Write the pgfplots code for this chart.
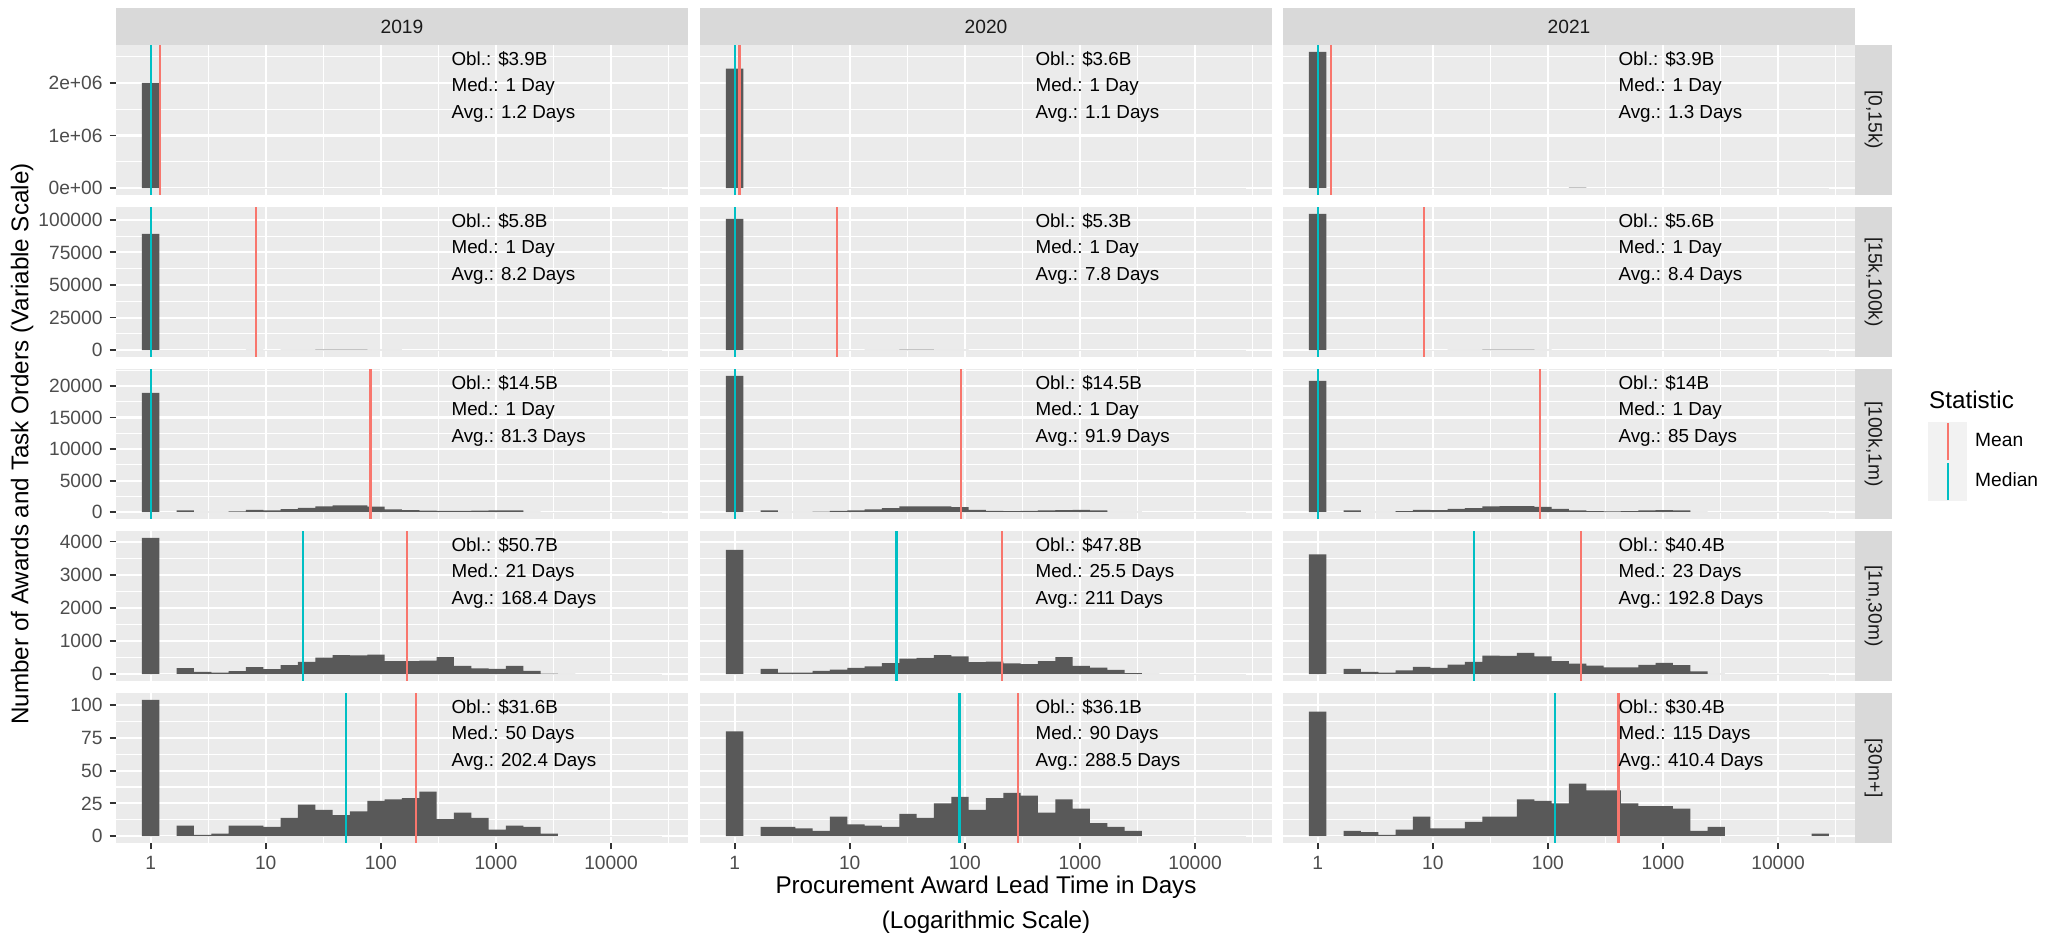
\documentclass[border=0pt]{standalone}
\usepackage{fontspec}
\setmainfont{Liberation Sans}
\usepackage{pgfplots}
\usepackage{pgfplotstable}
\pgfplotsset{compat=1.18}
\definecolor{panelbg}{HTML}{EBEBEB}
\definecolor{stripbg}{HTML}{D9D9D9}
\definecolor{barc}{HTML}{595959}
\definecolor{ticklab}{HTML}{4D4D4D}
\definecolor{tickc}{HTML}{333333}
\definecolor{striptext}{HTML}{1A1A1A}
\definecolor{keybg}{HTML}{F2F2F2}
\definecolor{meanc}{HTML}{F8766D}
\definecolor{medc}{HTML}{00BFC4}
\newcommand{\ticksize}{\fontsize{9.6}{11}\selectfont}
\newcommand{\annsize}{\fontsize{9.4}{11}\selectfont}
\newcommand{\titlesize}{\fontsize{12.1}{14}\selectfont}

% bin left edges (log10 days) and counts: a=2019, b=2020, c=2021
\pgfplotstableread{
x a b c
-0.0753 2000000 2270000 2590000
0.0753 0 0 0
0.2259 0 0 0
0.3765 0 0 0
0.5271 0 0 0
0.6777 0 0 0
0.8283 0 0 0
0.9789 0 0 0
1.1295 0 0 0
1.2801 0 0 0
1.4307 0 0 0
1.5813 0 0 0
1.7319 0 0 0
1.8825 0 0 0
2.0331 0 0 0
2.1837 0 0 8000
2.3343 0 0 0
2.4849 0 0 0
2.6355 0 0 0
2.7861 0 0 0
2.9367 0 0 0
3.0873 0 0 0
3.2379 0 0 0
3.3885 0 0 0
3.5391 0 0 0
3.6897 0 0 0
3.8403 0 0 0
3.9909 0 0 0
4.1415 0 0 0
4.2921 0 0 0
4.4427 0 0 0
}\rowA
\pgfplotstableread{
x a b c
-0.0753 89200 100800 104600
0.0753 0 0 0
0.2259 0 0 0
0.3765 0 0 0
0.5271 0 0 0
0.6777 0 0 0
0.8283 150 0 0
0.9789 0 0 0
1.1295 200 150 150
1.2801 300 250 250
1.4307 500 450 450
1.5813 500 450 500
1.7319 500 300 450
1.8825 300 200 250
2.0331 150 100 100
2.1837 0 0 0
2.3343 0 0 0
2.4849 0 0 0
2.6355 0 0 0
2.7861 0 0 0
2.9367 0 0 0
3.0873 0 0 0
3.2379 0 0 0
3.3885 0 0 0
3.5391 0 0 0
3.6897 0 0 0
3.8403 0 0 0
3.9909 0 0 0
4.1415 0 0 0
4.2921 0 0 0
4.4427 0 0 0
}\rowB
\pgfplotstableread{
x a b c
-0.0753 18880 21600 20800
0.0753 0 0 0
0.2259 300 270 270
0.3765 60 40 50
0.5271 50 40 50
0.6777 110 100 160
0.8283 380 200 370
0.9789 280 270 320
1.1295 480 430 530
1.2801 680 640 640
1.4307 920 900 900
1.5813 1080 920 960
1.7319 1060 920 960
1.8825 860 800 850
2.0331 430 370 530
2.1837 320 210 270
2.3343 260 160 160
2.4849 210 210 110
2.6355 200 270 160
2.7861 260 320 270
2.9367 280 370 320
3.0873 280 270 270
3.2379 60 50 50
3.3885 10 30 10
3.5391 0 0 0
3.6897 0 0 0
3.8403 0 0 0
3.9909 0 0 0
4.1415 0 0 0
4.2921 0 0 0
4.4427 0 0 0
}\rowC
\pgfplotstableread{
x a b c
-0.0753 4113 3750 3610
0.0753 0 0 0
0.2259 185 161 162
0.3765 70 50 70
0.5271 45 50 45
0.6777 95 100 115
0.8283 215 140 218
0.9789 155 190 188
1.1295 270 236 284
1.2801 370 333 370
1.4307 497 472 562
1.5813 577 492 552
1.7319 567 573 644
1.8825 587 537 537
2.0331 391 361 390
2.1837 391 382 319
2.3343 406 322 258
2.4849 517 306 208
2.6355 251 391 208
2.7861 175 512 279
2.9367 160 251 340
3.0873 251 201 273
3.2379 100 130 86
3.3885 20 30 10
3.5391 10 10 0
3.6897 0 0 0
3.8403 0 0 0
3.9909 0 0 0
4.1415 0 0 0
4.2921 0 0 0
4.4427 0 0 0
}\rowD
\pgfplotstableread{
x a b c
-0.0753 104 80 95
0.0753 0 0 0
0.2259 8 7 4
0.3765 1 7 3
0.5271 2 6 1
0.6777 8 4 5
0.8283 8 15 15
0.9789 7 9 6
1.1295 14 8 6
1.2801 24 7 11
1.4307 20 17 15
1.5813 16 14 15
1.7319 19 25 28
1.8825 27 30 27
2.0331 28 20 25
2.1837 29 29 40
2.3343 34 33 35
2.4849 13 31 35
2.6355 18 18 25
2.7861 14 28 23
2.9367 5 21 23
3.0873 8 10 21
3.2379 7 7 4
3.3885 2 4 7
3.5391 0 0 0
3.6897 0 0 0
3.8403 0 0 0
3.9909 0 0 0
4.1415 0 0 0
4.2921 0 0 2
4.4427 0 0 0
}\rowE

\pgfplotsset{
  panel/.style={
    scale only axis, width=286pt, height=75pt, anchor=south west,
    xmin=-0.301, xmax=4.669,
    axis background/.style={fill=panelbg},
    axis line style={draw=none},
    grid=both,
    major grid style={draw=white, line width=1.05pt},
    minor grid style={draw=white, line width=0.55pt},
    xtick={0,1,2,3,4}, minor xtick={0.5,1.5,2.5,3.5,4.5},
    xticklabels={}, yticklabels={},
    tick align=outside, tick pos=left,
    major tick length=3.2pt, minor tick length=0pt,
    xtick style={draw=none}, ytick style={draw=none},
    tick label style={font=\ticksize, text=ticklab},
    scaled ticks=false,
    clip mode=individual,
  },
  r1/.style={ymin=-129500, ymax=2719500, ytick={0,1000000,2000000}, minor ytick={500000,1500000,2500000}},
  r2/.style={ymin=-5230, ymax=109830, ytick={0,25000,50000,75000,100000}, minor ytick={12500,37500,62500,87500}},
  r3/.style={ymin=-1080, ymax=22680, ytick={0,5000,10000,15000,20000}, minor ytick={2500,7500,12500,17500,22500}},
  r4/.style={ymin=-206, ymax=4319, ytick={0,1000,2000,3000,4000}, minor ytick={500,1500,2500,3500}},
  r5/.style={ymin=-5.2, ymax=109.2, ytick={0,25,50,75,100}, minor ytick={12.5,37.5,62.5,87.5}},
  leftcol/.style={ytick style={draw=tickc, line width=0.9pt}},
  l1/.style={leftcol, yticklabels={0e+00,1e+06,2e+06}},
  l2/.style={leftcol, yticklabels={0,25000,50000,75000,100000}},
  l3/.style={leftcol, yticklabels={0,5000,10000,15000,20000}},
  l4/.style={leftcol, yticklabels={0,1000,2000,3000,4000}},
  l5/.style={leftcol, yticklabels={0,25,50,75,100}},
  bottom/.style={xticklabels={1,10,100,1000,10000}, xtick style={draw=tickc, line width=0.9pt}},
  topstrip/.style={extra description/.append code={
    \fill[stripbg] (0,1) rectangle ([yshift=18.5pt]1,1);
    \node[font=\ticksize, text=striptext] at ([yshift=9.25pt]0.5,1) {#1};}},
  rightstrip/.style={extra description/.append code={
    \fill[stripbg] (1,0) rectangle ([xshift=18.5pt]1,1);
    \node[font=\ticksize, text=striptext, rotate=-90] at ([xshift=9.25pt]1,0.5) {#1};}},
  mylegend/.style={
    legend entries={Mean,Median},
    legend image code/.code={
      \fill[keybg] (0pt,-9.375pt) rectangle (18.5pt,9.375pt);
      \draw[##1, line width=1.1pt] (9.25pt,-9.375pt) -- (9.25pt,9.375pt);},
    legend style={at={(1.1276,0.383)}, anchor=west, draw=none, fill=none,
      inner sep=0pt, outer sep=0pt, row sep=0pt, column sep=4pt,
      font=\ticksize, nodes={inner sep=0pt, text=black}},
    legend cell align=left,
    extra description/.append code={
      \node[anchor=west, inner sep=0pt, font=\titlesize] at (1.129,0.793) {Statistic};},
  },
  ylab/.style={extra description/.append code={
      \node[rotate=90, font=\titlesize] at (-0.1643,0.5) {Number of Awards and Task Orders (Variable Scale)};}},
  xlab/.style={extra description/.append code={
      \node[font=\titlesize] at (0.5,-0.293) {Procurement Award Lead Time in Days};
      \node[font=\titlesize] at (0.5,-0.527) {(Logarithmic Scale)};}},
}

% #1 x, #2 y, #3 options, #4 bar source, #5 log mean, #6 log median, #7-#9 annotation lines
\newcommand{\panel}[9]{%
\begin{axis}[panel, at={(#1,#2)}, #3]
\addplot[ybar interval, fill=barc, draw=none, forget plot] #4;
\addplot[meanc, line width=1.1pt] coordinates {(#5,\pgfkeysvalueof{/pgfplots/ymin}) (#5,\pgfkeysvalueof{/pgfplots/ymax})};
\addplot[medc, line width=1.1pt] coordinates {(#6,\pgfkeysvalueof{/pgfplots/ymin}) (#6,\pgfkeysvalueof{/pgfplots/ymax})};
\node[anchor=west, inner sep=0pt, font=\annsize] at (rel axis cs:0.586,0.903) {#7};
\node[anchor=west, inner sep=0pt, font=\annsize] at (rel axis cs:0.586,0.723) {#8};
\node[anchor=west, inner sep=0pt, font=\annsize] at (rel axis cs:0.586,0.543) {#9};
\end{axis}}

\begin{document}
\begin{tikzpicture}
\useasboundingbox (0,0) rectangle (1024.5pt,467.5pt);
% row 1
\panel{58pt}{370pt}{r1,l1,topstrip=2019}{table[x=x,y=a]{\rowA}}{0.0792}{0}{Obl.: \$3.9B}{Med.: 1 Day}{Avg.: 1.2 Days}
\panel{350pt}{370pt}{r1,topstrip=2020}{table[x=x,y=b]{\rowA}}{0.0414}{0}{Obl.: \$3.6B}{Med.: 1 Day}{Avg.: 1.1 Days}
\panel{641.5pt}{370pt}{r1,topstrip=2021,rightstrip={[0,15k)}}{table[x=x,y=c]{\rowA}}{0.1139}{0}{Obl.: \$3.9B}{Med.: 1 Day}{Avg.: 1.3 Days}
% row 2
\panel{58pt}{289pt}{r2,l2}{table[x=x,y=a]{\rowB}}{0.9138}{0}{Obl.: \$5.8B}{Med.: 1 Day}{Avg.: 8.2 Days}
\panel{350pt}{289pt}{r2}{table[x=x,y=b]{\rowB}}{0.8921}{0}{Obl.: \$5.3B}{Med.: 1 Day}{Avg.: 7.8 Days}
\panel{641.5pt}{289pt}{r2,rightstrip={[15k,100k)}}{table[x=x,y=c]{\rowB}}{0.9243}{0}{Obl.: \$5.6B}{Med.: 1 Day}{Avg.: 8.4 Days}
% row 3
\panel{58pt}{208pt}{r3,l3,ylab}{table[x=x,y=a]{\rowC}}{1.9101}{0}{Obl.: \$14.5B}{Med.: 1 Day}{Avg.: 81.3 Days}
\panel{350pt}{208pt}{r3}{table[x=x,y=b]{\rowC}}{1.9633}{0}{Obl.: \$14.5B}{Med.: 1 Day}{Avg.: 91.9 Days}
\panel{641.5pt}{208pt}{r3,rightstrip={[100k,1m)},mylegend}{table[x=x,y=c]{\rowC}}{1.9294}{0}{Obl.: \$14B}{Med.: 1 Day}{Avg.: 85 Days}
% row 4
\panel{58pt}{127pt}{r4,l4}{table[x=x,y=a]{\rowD}}{2.2263}{1.3222}{Obl.: \$50.7B}{Med.: 21 Days}{Avg.: 168.4 Days}
\panel{350pt}{127pt}{r4}{table[x=x,y=b]{\rowD}}{2.3243}{1.4065}{Obl.: \$47.8B}{Med.: 25.5 Days}{Avg.: 211 Days}
\panel{641.5pt}{127pt}{r4,rightstrip={[1m,30m)}}{table[x=x,y=c]{\rowD}}{2.2851}{1.3617}{Obl.: \$40.4B}{Med.: 23 Days}{Avg.: 192.8 Days}
% row 5
\panel{58pt}{46pt}{r5,l5,bottom}{table[x=x,y=a]{\rowE}}{2.3062}{1.6990}{Obl.: \$31.6B}{Med.: 50 Days}{Avg.: 202.4 Days}
\panel{350pt}{46pt}{r5,bottom,xlab}{table[x=x,y=b]{\rowE}}{2.4601}{1.9542}{Obl.: \$36.1B}{Med.: 90 Days}{Avg.: 288.5 Days}
\panel{641.5pt}{46pt}{r5,bottom,rightstrip={[30m+]}}{table[x=x,y=c]{\rowE}}{2.6132}{2.0607}{Obl.: \$30.4B}{Med.: 115 Days}{Avg.: 410.4 Days}
\end{tikzpicture}
\end{document}
